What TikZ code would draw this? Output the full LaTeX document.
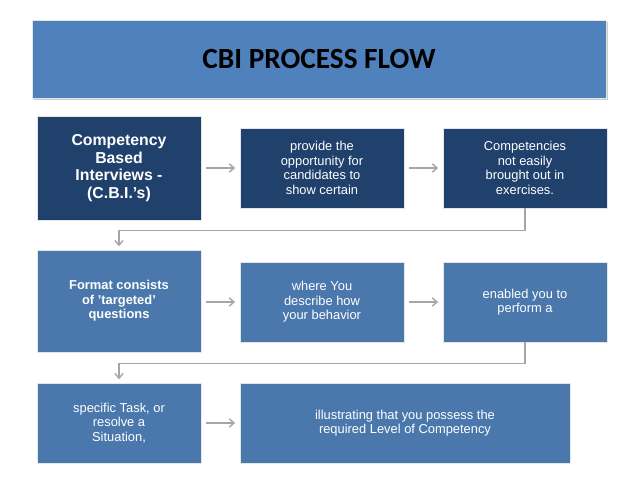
\documentclass[tikz,border=0pt]{standalone}
\usepackage{fontspec}
\setmainfont{Liberation Sans}
\newfontfamily\titlefont{Carlito}
\usetikzlibrary{arrows.meta, shadows}
\definecolor{navy}{HTML}{1F416B}
\definecolor{midblue}{HTML}{4A78AD}
\definecolor{titleblue}{HTML}{4F81BD}
\definecolor{linegray}{HTML}{A6A6A6}
\begin{document}
\begin{tikzpicture}[x=0.03cm,y=-0.03cm,>={Straight Barb[length=4pt,width=7pt]}]
                \tikzset{box/.style={rectangle, draw=white!80!gray, line width=0.4pt, text=white, align=center, inner sep=2pt, font=\fontsize{11}{12.5}\selectfont, drop shadow={shadow xshift=1pt, shadow yshift=-1pt, opacity=0.35}},
                         big/.style={box, font=\bfseries\fontsize{11}{12.5}\selectfont},
                         flow/.style={->, linegray, line width=1.2pt}}
                \useasboundingbox (0,0) rectangle (638,479);
                \node[rectangle, fill=titleblue, draw=white!80!gray, minimum width=574*0.03cm, minimum height=78*0.03cm, drop shadow={shadow xshift=2pt, shadow yshift=-2pt, opacity=0.4}, font=\titlefont\bfseries\fontsize{25}{28}\selectfont] (title) at (319,59) {CBI PROCESS FLOW};
                \node[big, fill=navy, minimum width=164*0.03cm, minimum height=104*0.03cm, font=\bfseries\fontsize{13.5}{15}\selectfont] (A) at (119,168) {Competency\\Based\\Interviews -\\(C.B.I.'s)};
                \node[box, fill=navy, minimum width=164*0.03cm, minimum height=80*0.03cm] (B) at (322,168) {provide the\\opportunity for\\candidates to\\show certain};
                \node[box, fill=navy, minimum width=164*0.03cm, minimum height=80*0.03cm] (C) at (525,168) {Competencies\\not easily\\brought out in\\exercises.};
                \node[big, fill=midblue, minimum width=164*0.03cm, minimum height=102*0.03cm] (D) at (119,301) {Format consists\\of 'targeted'\\questions};
                \node[box, fill=midblue, minimum width=164*0.03cm, minimum height=80*0.03cm] (E) at (322,302) {where You\\describe how\\your behavior};
                \node[box, fill=midblue, minimum width=164*0.03cm, minimum height=80*0.03cm] (F) at (525,302) {enabled you to\\perform a};
                \node[box, fill=midblue, minimum width=164*0.03cm, minimum height=80*0.03cm] (G) at (119,423) {specific Task, or\\resolve a\\Situation,};
                \node[box, fill=midblue, minimum width=330*0.03cm, minimum height=80*0.03cm] (H) at (405,423) {illustrating that you possess the\\required Level of Competency};
                \draw[flow] ([xshift=4pt]A.east |- B.west) -- ([xshift=-4pt]B.west);
                \draw[flow] ([xshift=4pt]B.east) -- ([xshift=-4pt]C.west);
                \draw[flow] (C.south) -- ++(0,22) -| ([yshift=3pt]D.north);
                \draw[flow] ([xshift=4pt]D.east |- E.west) -- ([xshift=-4pt]E.west);
                \draw[flow] ([xshift=4pt]E.east) -- ([xshift=-4pt]F.west);
                \draw[flow] (F.south) -- ++(0,21) -| ([yshift=3pt]G.north);
                \draw[flow] ([xshift=4pt]G.east) -- ([xshift=-4pt]H.west);
            \end{tikzpicture}
\end{document}
